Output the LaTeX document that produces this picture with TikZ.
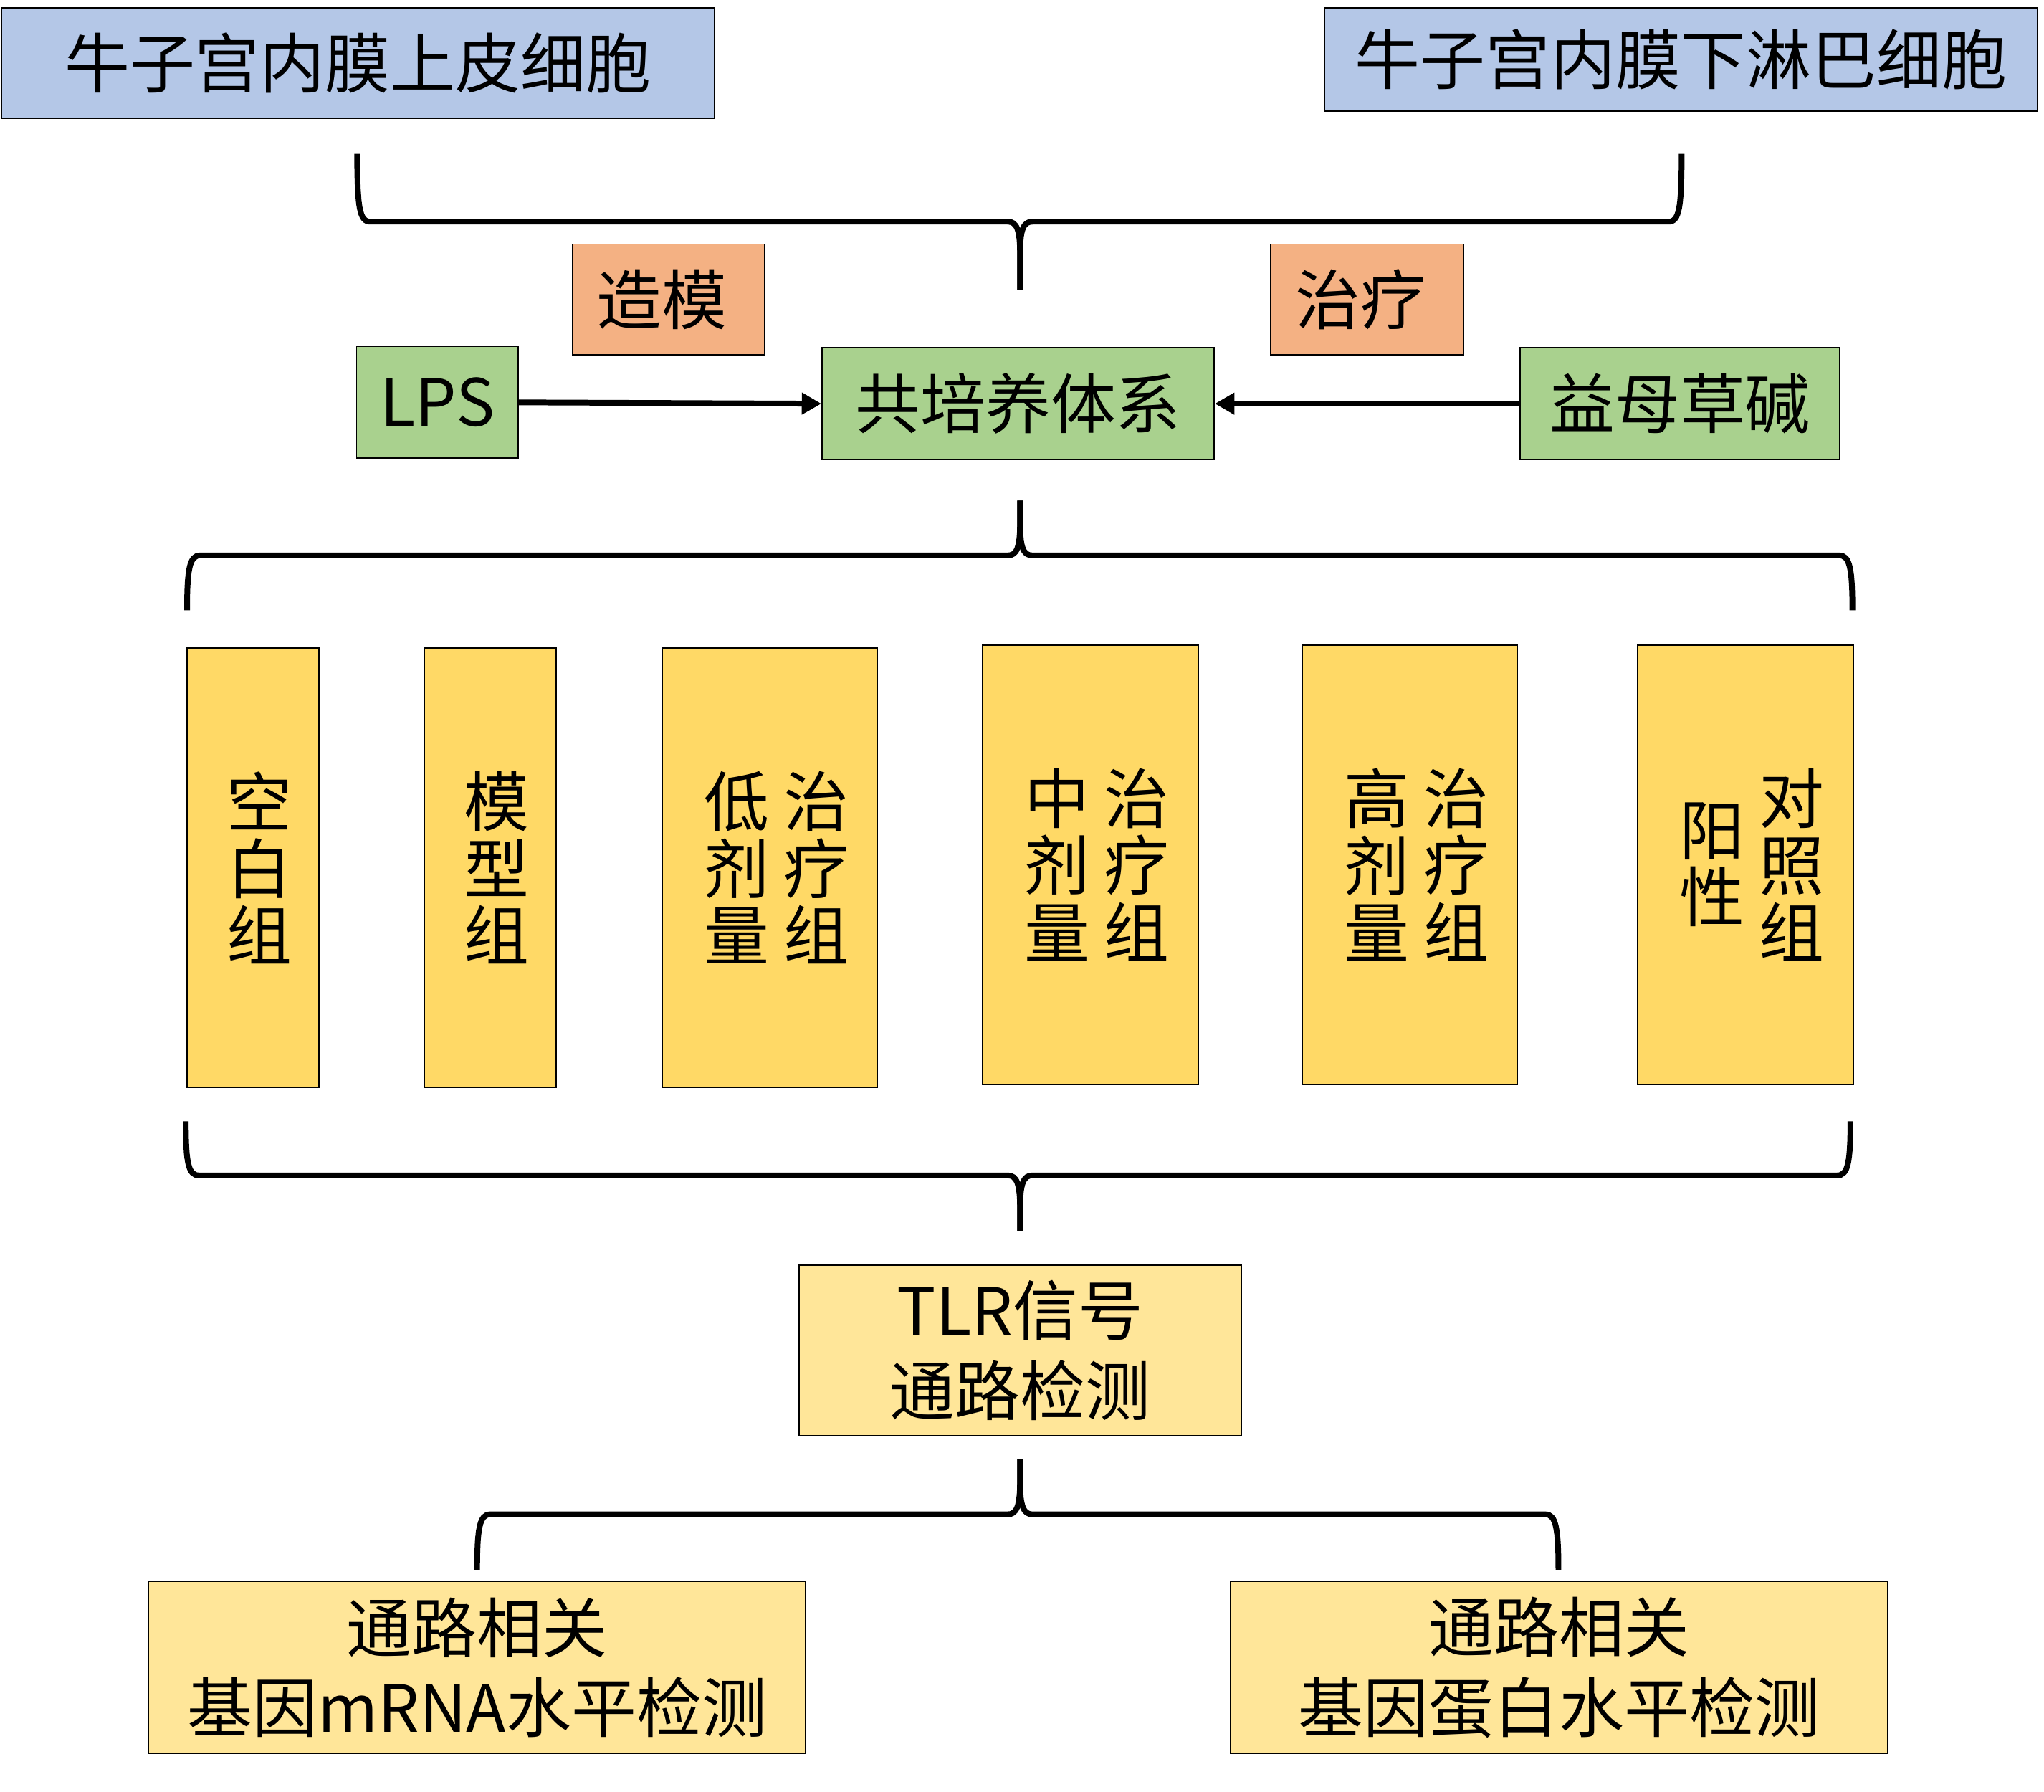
\documentclass[tikz,border=0pt]{standalone}
\usepackage{fontspec}
\setmainfont{Noto Sans CJK SC}
\usetikzlibrary{arrows.meta}
\definecolor{cblue}{HTML}{B4C7E7}
\definecolor{corange}{HTML}{F4B183}
\definecolor{cgreen}{HTML}{A9D18E}
\definecolor{cyel}{HTML}{FFD966}
\definecolor{clyel}{HTML}{FFE699}
\newcommand\grpcol[1]{\parbox[c]{1em}{\centering\lineskiplimit=-10cm\baselineskip=29.2pt #1\par}}
\begin{document}
\begin{tikzpicture}[x=0.02cm,y=-0.02cm,
  box/.style={draw=black, line width=0.6pt, inner sep=0pt, align=center,
    font=\fontsize{28.45}{35}\selectfont},
  gbox/.style={draw=black, line width=0.6pt, inner sep=0pt, fill=cyel,
    font=\fontsize{28.45}{29}\selectfont},
  wh/.style 2 args={minimum width=#1*0.02cm, minimum height=#2*0.02cm},
  brace/.style={line width=2.5pt, line join=round},
  arr/.style={line width=2.5pt, -{Triangle[length=0.3cm,width=0.32cm]}},
]
\useasboundingbox (0,0) rectangle (1568,1374);

% top cell boxes
\node[box, fill=cblue, wh={547}{85}] (epi) at (274.5,48.5) {牛子宫内膜上皮细胞};
\node[box, fill=cblue, wh={547}{79}] (lym) at (1289.5,45.5) {牛子宫内膜下淋巴细胞};

% model / treat labels
\node[box, fill=corange, wh={147.5}{85}] (model) at (512.8,229.7) {造模\hspace*{0.2cm}};
\node[box, fill=corange, wh={148}{85}] (treat) at (1048.5,229.7) {治疗\hspace*{0.2cm}};

% green row
\node[box, fill=cgreen, wh={124}{85.6}] (lps) at (335.5,308.6) {LPS};
\node[box, fill=cgreen, wh={300.8}{85.7}] (cocul) at (781,309.6) {共培养体系};
\node[box, fill=cgreen, wh={245.4}{85.7}] (ymcj) at (1288.7,309.6) {益母草碱};

\draw[arr] (lps.east) -- (cocul.west);
\draw[arr] (ymcj.west) -- (cocul.east);

% group boxes
\node[gbox, wh={101}{337}] (g1) at (194,665.5) {\hspace*{0.2cm}\grpcol{空\\白\\组}};
\node[gbox, wh={101}{337}] (g2) at (376,665.5) {\hspace*{0.2cm}\grpcol{模\\型\\组}};
\node[gbox, wh={165}{337}] (g3) at (590.5,665.5) {\hspace*{0.2cm}\grpcol{低\\剂\\量}\hspace{0.22cm}\grpcol{治\\疗\\组}};
\node[gbox, wh={165.5}{337}] (g4) at (836.3,663.2) {\hspace*{0.2cm}\grpcol{中\\剂\\量}\hspace{0.22cm}\grpcol{治\\疗\\组}};
\node[gbox, wh={165}{337}] (g5) at (1081.5,663.2) {\hspace*{0.2cm}\grpcol{高\\剂\\量}\hspace{0.22cm}\grpcol{治\\疗\\组}};
\node[gbox, wh={166}{337}] (g6) at (1339,663.2) {\hspace*{0.2cm}\grpcol{阳\\性}\hspace{0.22cm}\grpcol{对\\照\\组}};

% detection boxes
\node[box, fill=clyel, wh={339.5}{131}] (tlr) at (782.7,1035.7) {TLR信号\\通路检测};
\node[box, fill=clyel, wh={504}{132}] (mrna) at (366,1279) {通路相关\\基因mRNA水平检测};
\node[box, fill=clyel, wh={504}{132}] (prot) at (1196,1279) {通路相关\\基因蛋白水平检测};

% brace 1 (cells -> co-culture)
\coordinate (b1l) at (274,118);
\coordinate (b1r) at (1290,118);
\coordinate (b1c) at (782.5,222);
\draw[brace] (b1l) .. controls (274,160) and (276,170) .. (284,170) -- (773,170)
  .. controls (780,170) and (782.5,176) .. (782.5,195) -- (b1c);
\draw[brace] (b1r) .. controls (1290,160) and (1288,170) .. (1280,170) -- (792,170)
  .. controls (785,170) and (782.5,176) .. (782.5,195) -- (b1c);

% brace 2 (co-culture -> groups)
\coordinate (b2l) at (143.5,468);
\coordinate (b2r) at (1421,468);
\coordinate (b2c) at (782.5,384);
\draw[brace] (b2l) .. controls (143.5,436) and (145.5,426) .. (153.5,426) -- (773,426)
  .. controls (780,426) and (782.5,420) .. (782.5,401) -- (b2c);
\draw[brace] (b2r) .. controls (1421,436) and (1419,426) .. (1411,426) -- (792,426)
  .. controls (785,426) and (782.5,420) .. (782.5,401) -- (b2c);

% brace 3 (groups -> TLR)
\coordinate (b3l) at (142.5,860);
\coordinate (b3r) at (1419.5,860);
\coordinate (b3c) at (782.5,944);
\draw[brace] (b3l) .. controls (142.5,892) and (144.5,901.5) .. (152.5,901.5) -- (773,901.5)
  .. controls (780,901.5) and (782.5,908) .. (782.5,927) -- (b3c);
\draw[brace] (b3r) .. controls (1419.5,892) and (1417.5,901.5) .. (1409.5,901.5) -- (792,901.5)
  .. controls (785,901.5) and (782.5,908) .. (782.5,927) -- (b3c);

% brace 4 (TLR -> detections)
\coordinate (b4l) at (366,1204);
\coordinate (b4r) at (1195.5,1204);
\coordinate (b4c) at (782.5,1119);
\draw[brace] (b4l) .. controls (366,1172) and (368,1161.5) .. (376,1161.5) -- (773,1161.5)
  .. controls (780,1161.5) and (782.5,1155) .. (782.5,1136) -- (b4c);
\draw[brace] (b4r) .. controls (1195.5,1172) and (1193.5,1161.5) .. (1185.5,1161.5) -- (792,1161.5)
  .. controls (785,1161.5) and (782.5,1155) .. (782.5,1136) -- (b4c);
\end{tikzpicture}
\end{document}
